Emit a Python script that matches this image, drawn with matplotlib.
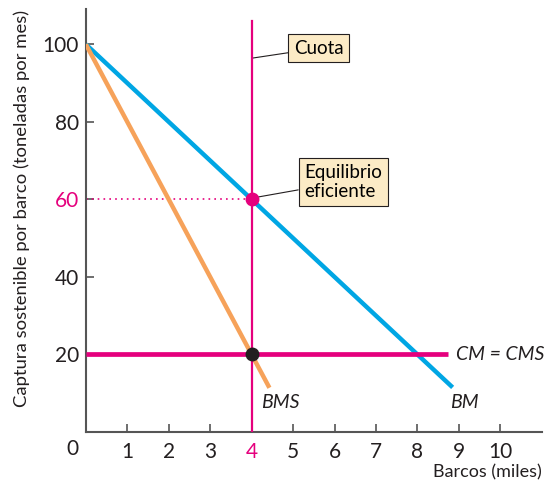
import matplotlib
matplotlib.use("Agg")
import matplotlib.pyplot as plt
import numpy as np

# datos
barcos_bm = [0, 8.85]
captura_bm = [100, 11.5]
barcos_bms = [0, 4.43]
captura_bms = [100, 11.4]
cm_x = [0, 8.75]
cm_y = [20, 20]
cuota_x = 4
cuota_top = 106
eq_eficiente = (4, 60)
eq_mercado = (4, 20)
xticks = [1, 2, 3, 4, 5, 6, 7, 8, 9, 10]
yticks = [20, 40, 60, 80, 100]

azul = "#00a6e4"
naranja = "#f6a25a"
rosa = "#e5007d"
gris = "#555555"
negro = "#231f20"
caja = "#fcebc6"

plt.rcParams["font.family"] = ["Lato", "DejaVu Sans"]

fig = plt.figure(figsize=(5.5, 4.83), dpi=100)
ax = fig.add_axes([0.156, 0.1056, 0.829, 0.875])
ax.set_xlim(0, 11)
ax.set_ylim(0, 109)

# curvas
ax.plot(barcos_bm, captura_bm, color=azul, lw=3.2, solid_capstyle="butt", zorder=3)
ax.plot(barcos_bms, captura_bms, color=naranja, lw=3.2, solid_capstyle="butt", zorder=3)
ax.plot(cm_x, cm_y, color=rosa, lw=3.4, solid_capstyle="butt", zorder=4)
ax.plot([cuota_x, cuota_x], [0, cuota_top], color=rosa, lw=1.6, zorder=4)
ax.plot([0, eq_eficiente[0]], [eq_eficiente[1]] * 2, color=rosa, lw=1.2,
        ls=(0, (1, 2.5)), zorder=2)
ax.plot(*eq_eficiente, "o", color=rosa, ms=9, zorder=6)
ax.plot(*eq_mercado, "o", color=negro, ms=9, zorder=6)

# etiquetas de curvas
ax.text(8.93, 20, "CM = CMS", style="italic", fontsize=14, va="center", ha="left", color=negro)
ax.text(4.22, 7.5, "BMS", style="italic", fontsize=14, va="center", ha="left", color=negro)
ax.text(8.78, 7.5, "BM", style="italic", fontsize=14, va="center", ha="left", color=negro)

# cuadros
bbox = dict(boxstyle="square,pad=0.3", fc=caja, ec=negro, lw=0.8)
ax.annotate("Cuota", xy=(4, 96.4), xytext=(5.02, 99), fontsize=13.5, va="center", ha="left",
            bbox=bbox, arrowprops=dict(arrowstyle="-", color=negro, lw=0.8,
                                       shrinkA=0, shrinkB=0))
ax.annotate("Equilibrio\neficiente", xy=(4.1, 60.5), xytext=(5.27, 64.5), fontsize=13.5,
            va="center", ha="left", linespacing=1.15, bbox=bbox,
            arrowprops=dict(arrowstyle="-", color=negro, lw=0.8, shrinkA=0, shrinkB=0))

# ejes
for s in ["top", "right"]:
    ax.spines[s].set_visible(False)
for s in ["left", "bottom"]:
    ax.spines[s].set_color(gris)
    ax.spines[s].set_linewidth(1.5)
ax.set_xticks(xticks)
ax.set_yticks(yticks)
ax.tick_params(direction="in", length=6, width=1.2, color=gris, labelsize=15,
               labelcolor=negro)
ax.tick_params(axis="x", pad=7)
ax.tick_params(axis="y", pad=5)
ax.get_xticklabels()[3].set_color(rosa)
ax.get_yticklabels()[2].set_color(rosa)
ax.text(-0.33, -4.3, "0", fontsize=15, ha="center", va="center", color=negro)

ax.set_xlabel("Barcos (miles)", fontsize=13, color=negro, ha="right", va="center")
ax.xaxis.set_label_coords(1.0, -0.095)
ax.set_ylabel("Captura sostenible por barco (toneladas por mes)", fontsize=13.3, color=negro)
ax.yaxis.set_label_coords(-0.122, 0.528)

fig.savefig("out.png", dpi=100)
